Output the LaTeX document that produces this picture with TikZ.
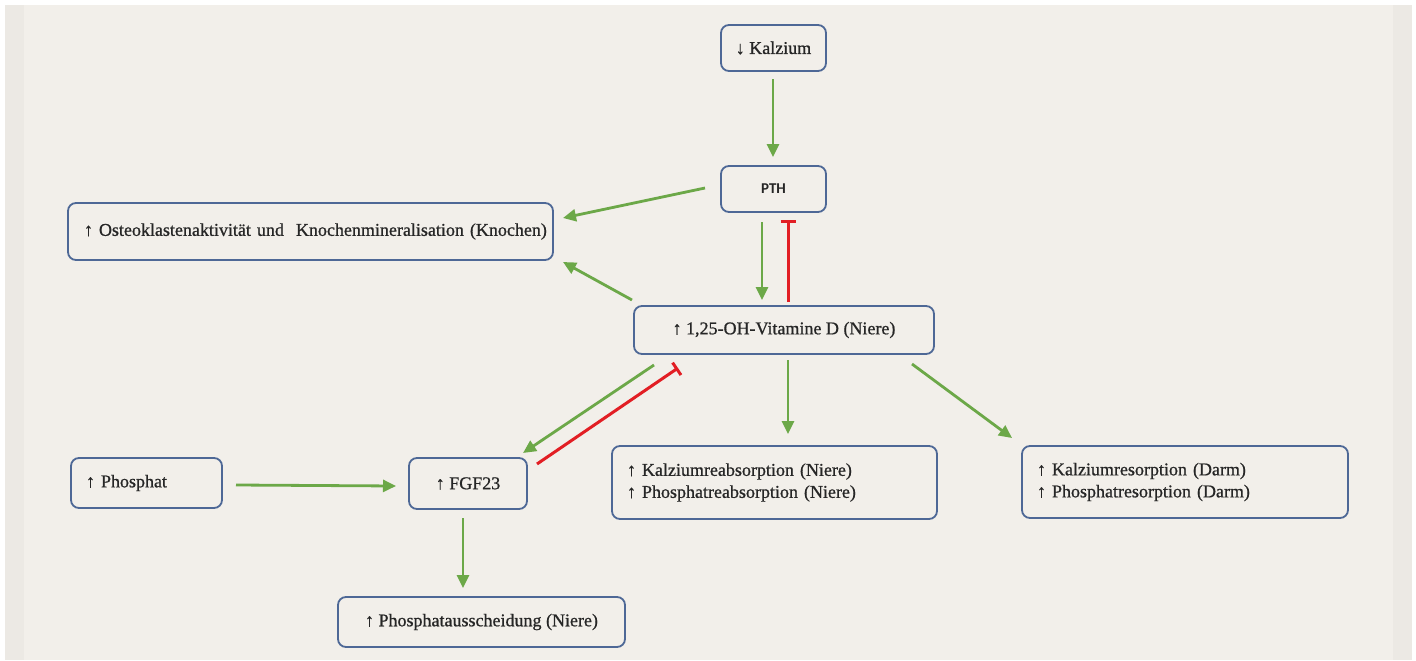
\documentclass[tikz,border=0pt]{standalone}
\usepackage{fontspec}
\setmainfont[FakeBold=0.8]{Liberation Serif}
\newfontfamily\labelsans{Carlito}
\usetikzlibrary{arrows.meta}
\definecolor{paper}{RGB}{242,239,234}
\definecolor{paperedge}{RGB}{236,233,228}
\definecolor{frame}{RGB}{78,104,150}
\definecolor{act}{RGB}{108,168,72}
\definecolor{inh}{RGB}{226,30,36}
\tikzset{
  box/.style={draw=frame, line width=1.8pt, rounded corners=8pt, fill=paper,
    font=\fontsize{18}{22}\selectfont, text=black!85, inner sep=0pt},
  lbox/.style={box, align=left, inner xsep=15pt},
  promote/.style={draw=act, line width=2.8pt, -{Triangle[length=13pt,width=12pt]}},
  inhibit/.style={draw=inh, line width=3pt, -{Bar[width=15pt,line width=3pt]}},
}
\begin{document}
\begin{tikzpicture}[x=1pt,y=-1pt]
  % page and background
  \useasboundingbox (0,0) rectangle (1416,661);
  \fill[white] (0,0) rectangle (1416,661);
  \fill[paper] (5,5) rectangle (1412,660);
  \fill[paperedge] (5,5) rectangle (24,660);
  \fill[paperedge] (1393,5) rectangle (1412,660);

  % boxes
  \node[box, minimum width=105pt, minimum height=46pt] (ca) at (773.5,48) {↓ Kalzium};
  \node[box, minimum width=105pt, minimum height=46pt, font=\labelsans\fontsize{15}{18}\selectfont\bfseries] (pth) at (773.5,189) {PTH};
  \node[lbox, text width=453pt, inner xsep=16pt, minimum height=57pt] (ost) at (310.5,231.5)
    {\mbox{↑ Osteoklastenaktivität und\ \ Knochenmineralisation (Knochen)}};
  \node[box, minimum width=300pt, minimum height=48pt] (vitd) at (784,330) {↑ 1,25-OH-Vitamine D (Niere)};
  \node[lbox, text width=121pt, minimum height=50pt] (pho) at (146.5,483) {↑ Phosphat};
  \node[box, minimum width=118pt, minimum height=51pt] (fgf) at (468,483.5) {↑ FGF23};
  \node[lbox, text width=295pt, minimum height=73pt, font=\fontsize{18}{22}\selectfont] (niere) at (774.5,482.5)
    {↑ Kalziumreabsorption (Niere)\\↑ Phosphatreabsorption (Niere)};
  \node[lbox, text width=296pt, minimum height=72pt, font=\fontsize{18}{22}\selectfont] (darm) at (1185,482)
    {↑ Kalziumresorption (Darm)\\↑ Phosphatresorption (Darm)};
  \node[box, minimum width=287pt, minimum height=50pt] (aus) at (481.5,622) {↑ Phosphatausscheidung (Niere)};

  % arrow end points
  \coordinate (caS) at (773,79);   \coordinate (pthN) at (773,157);
  \coordinate (pthW) at (705,188); \coordinate (ostE) at (563,218);
  \coordinate (pthS1) at (762,222); \coordinate (vitN1) at (762,300);
  \coordinate (vitN2) at (788,302); \coordinate (pthS2) at (788,220);
  \coordinate (vitNW) at (632,300); \coordinate (ostSE) at (563,262);
  \coordinate (vitSW) at (654,365); \coordinate (fgfNE) at (523,453);
  \coordinate (fgfE) at (537,464);  \coordinate (vitSW2) at (678,368);
  \coordinate (vitS) at (788,360);  \coordinate (niereN) at (788,434);
  \coordinate (vitSE) at (912,364); \coordinate (darmNW) at (1012,438);
  \coordinate (phoE) at (236,485);  \coordinate (fgfW) at (396,486);
  \coordinate (fgfS) at (463,518);  \coordinate (ausN) at (463,588);

  % connectors
  \draw[promote] (caS) -- (pthN);
  \draw[promote] (pthW) -- (ostE);
  \draw[promote] (pthS1) -- (vitN1);
  \draw[inhibit] (vitN2) -- (pthS2);
  \draw[promote] (vitNW) -- (ostSE);
  \draw[promote] (vitSW) -- (fgfNE);
  \draw[inhibit] (fgfE) -- (vitSW2);
  \draw[promote] (vitS) -- (niereN);
  \draw[promote] (vitSE) -- (darmNW);
  \draw[promote] (phoE) -- (fgfW);
  \draw[promote] (fgfS) -- (ausN);
\end{tikzpicture}
\end{document}
